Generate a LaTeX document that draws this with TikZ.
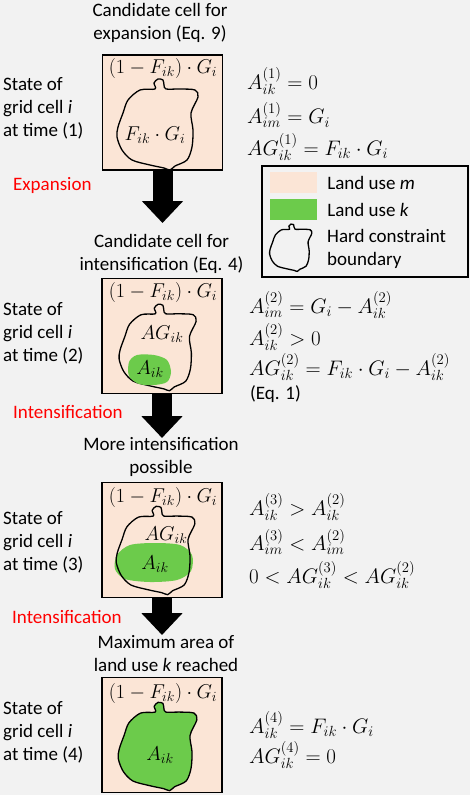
\documentclass[tikz,border=0pt]{standalone}
\usepackage{fix-cm}
\usepackage{fontspec}
\setmainfont{Carlito}
\usepackage{tikz}
\usetikzlibrary{arrows.meta, positioning}

\definecolor{bggray}{HTML}{F2F2F2}
\definecolor{landm}{HTML}{FBE5D6}
\definecolor{landk}{HTML}{6CCB4B}

\tikzset{
  cellbox/.style={draw, line width=1.3pt, fill=landm, minimum width=120pt, minimum height=115pt, inner sep=0pt},
  lbl/.style={font=\fontsize{19}{23}\selectfont, inner sep=0pt},
  inlbl/.style={font=\fontsize{20}{23}\selectfont, inner sep=0pt},
  steplbl/.style={lbl, align=left, anchor=west},
  caption/.style={lbl, align=center},
  change/.style={lbl, text=red, anchor=west},
  eqn/.style={font=\fontsize{21}{25}\selectfont, inner sep=0pt, anchor=west},
  swatch/.style={minimum width=47pt, minimum height=21pt, inner sep=0pt},
  bigarrow/.style={line width=20pt, -{Triangle[width=40pt, length=22pt]}},
  pics/blob/.style={code={
    \path[pic actions] plot[smooth cycle, tension=0.5] coordinates {
      (-5,-36) (-6,-42) (-2,-46) (3,-45) (4,-40) (6,-36) (20,-36) (35,-35) (38,-28)
      (31,-12) (33,5) (32,22) (27,35) (15,41) (10,45) (4,43) (-10,40)
      (-28,35) (-38,25) (-43,12) (-42,2) (-37,-12) (-32,-25) (-20,-35)};
  }}
}

\begin{document}
\begin{tikzpicture}[x=1pt, y=-1pt]
  \useasboundingbox (0,0) rectangle (470,795);
  \fill[bggray] (0,0) rectangle (470,795);

  % Zelle zum Zeitpunkt 1
  \node[caption] (cap1) at (160,22.5) {Candidate cell for\\expansion (Eq. 9)};
  \node[cellbox] (box1) at (162.5,112.5) {};
  \pic[draw, line width=1.3pt] at (160,125) {blob};
  \node[inlbl] (top1) at (163,68) {$(1-F_{ik})\cdot G_i$};
  \node[inlbl] (in1) at (155,135) {$F_{ik}\cdot G_i$};
  \node[steplbl] (st1) at (3,108) {State of\\grid cell \textit{i}\\at time (1)};
  \node[eqn] (e11) at (247,81) {$A_{ik}^{(1)} = 0$};
  \node[eqn] (e12) at (247,115) {$A_{im}^{(1)} = G_i$};
  \node[eqn] (e13) at (247,147) {$AG_{ik}^{(1)} = F_{ik}\cdot G_i$};

  % Legende
  \node[draw, line width=1.3pt, minimum width=206pt, minimum height=111pt, inner sep=0pt] (legend) at (365,221.5) {};
  \node[swatch, fill=landm] (swm) at (293.5,182.5) {};
  \node[lbl, right=10pt of swm] (txm) {Land use \textit{m}};
  \node[swatch, fill=landk] (swk) at (293.5,209.5) {};
  \node[lbl, right=10pt of swk] (txk) {Land use \textit{k}};
  \pic[draw, line width=1.3pt, scale=0.52] at (292,248) {blob};
  \node[lbl, align=left, anchor=west] (txb) at (327,248.5) {Hard constraint\\boundary};

  % Expansion
  \node[change] (ch1) at (13,185) {Expansion};
  \coordinate (tip1) at (162.5,223);
  \draw[bigarrow] (box1.south) -- (tip1);

  % Zelle zum Zeitpunkt 2
  \node[caption] (cap2) at (161.5,253.5) {Candidate cell for\\intensification (Eq. 4)};
  \node[cellbox] (box2) at (162,336) {};
  \pic[draw, line width=1.3pt, scale=0.95] at (160,348) {blob};
  \fill[landk, shift={(149,370)}] plot[smooth cycle] coordinates {
    (-20,-8) (-12,-15) (5,-15) (18,-10) (22,2) (18,12) (5,15) (-10,14) (-20,6)};
  \node[inlbl] (top2) at (163,292) {$(1-F_{ik})\cdot G_i$};
  \node[inlbl] (ag2) at (162,334) {$AG_{ik}$};
  \node[inlbl] (a2) at (150,369) {$A_{ik}$};
  \node[steplbl] (st2) at (3,333) {State of\\grid cell \textit{i}\\at time (2)};
  \node[eqn] (e21) at (249,305) {$A_{im}^{(2)} = G_i - A_{ik}^{(2)}$};
  \node[eqn] (e22) at (249,337) {$A_{ik}^{(2)} > 0$};
  \node[eqn] (e23) at (249,367) {$AG_{ik}^{(2)} = F_{ik}\cdot G_i - A_{ik}^{(2)}$};
  \node[lbl, anchor=west] (e24) at (250,394) {(Eq. 1)};

  % Intensivierung
  \node[change] (ch2) at (13,412) {Intensification};
  \coordinate (tip2) at (162,438);
  \draw[bigarrow] (box2.south) -- (tip2);

  % Zelle zum Zeitpunkt 3
  \node[caption] (cap3) at (161,456.5) {More intensification\\possible};
  \node[cellbox] (box3) at (162,540) {};
  \fill[landk, shift={(155,563)}] plot[smooth cycle] coordinates {
    (-38,-8) (-25,-18) (0,-20) (25,-18) (37,-8) (36,8) (22,17) (-5,19) (-30,16) (-40,6)};
  \pic[draw, line width=1.3pt, scale=0.97] at (158,551) {blob};
  \node[inlbl] (top3) at (163,497) {$(1-F_{ik})\cdot G_i$};
  \node[inlbl] (ag3) at (166,535) {$AG_{ik}$};
  \node[inlbl] (a3) at (155,564) {$A_{ik}$};
  \node[steplbl] (st3) at (3,542) {State of\\grid cell \textit{i}\\at time (3)};
  \node[eqn] (e31) at (249,507) {$A_{ik}^{(3)} > A_{ik}^{(2)}$};
  \node[eqn] (e32) at (249,542) {$A_{im}^{(3)} < A_{im}^{(2)}$};
  \node[eqn] (e33) at (249,575) {$0 < AG_{ik}^{(3)} < AG_{ik}^{(2)}$};

  % Intensivierung
  \node[change] (ch3) at (12,617) {Intensification};
  \coordinate (tip3) at (162,635);
  \draw[bigarrow] (box3.south) -- (tip3);

  % Zelle zum Zeitpunkt 4
  \node[caption] (cap4) at (166,653.5) {Maximum area of\\land use \textit{k} reached};
  \node[cellbox] (box4) at (162,735) {};
  \pic[draw, fill=landk, line width=1.3pt, scale=0.97] at (160,747) {blob};
  \node[inlbl] (top4) at (163,693) {$(1-F_{ik})\cdot G_i$};
  \node[inlbl] (a4) at (160,755) {$A_{ik}$};
  \node[steplbl] (st4) at (3,732) {State of\\grid cell \textit{i}\\at time (4)};
  \node[eqn] (e41) at (249,725) {$A_{ik}^{(4)} = F_{ik}\cdot G_i$};
  \node[eqn] (e42) at (249,755) {$AG_{ik}^{(4)} = 0$};
\end{tikzpicture}
\end{document}
